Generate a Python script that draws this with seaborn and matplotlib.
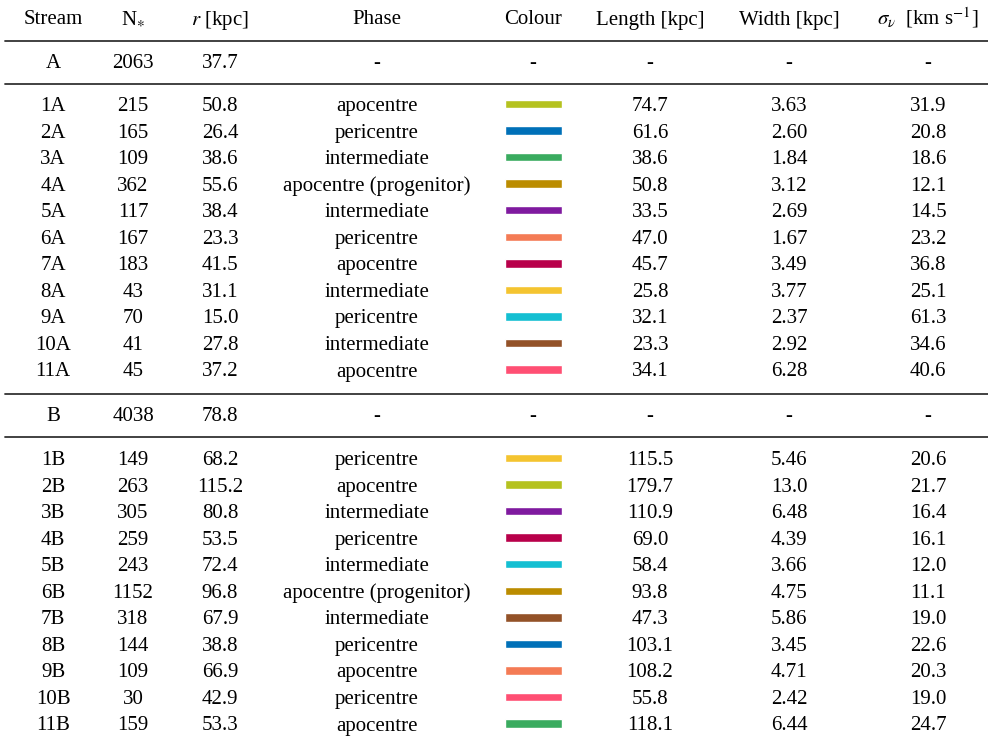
import matplotlib
matplotlib.use("Agg")
import matplotlib.pyplot as plt
import seaborn as sns

# table contents
headers = ["Stream", "N$_{\\ast}$", "$r$ [kpc]", "Phase", "Colour",
           "Length [kpc]", "Width [kpc]", r"$\sigma_{\nu}$  [km s$^{-1}$]"]

streams_a = ["1A", "2A", "3A", "4A", "5A", "6A", "7A", "8A", "9A", "10A", "11A"]
nstar_a = [215, 165, 109, 362, 117, 167, 183, 43, 70, 41, 45]
r_a = ["50.8", "26.4", "38.6", "55.6", "38.4", "23.3", "41.5", "31.1", "15.0", "27.8", "37.2"]
phase_a = ["apocentre", "pericentre", "intermediate", "apocentre (progenitor)", "intermediate",
           "pericentre", "apocentre", "intermediate", "pericentre", "intermediate", "apocentre"]
colour_a = ["#b5c21f", "#0070b8", "#3aab5f", "#bb8c00", "#7f1a9f", "#f47b55",
            "#b8004a", "#f4c430", "#14bfd2", "#935228", "#ff4f73"]
length_a = ["74.7", "61.6", "38.6", "50.8", "33.5", "47.0", "45.7", "25.8", "32.1", "23.3", "34.1"]
width_a = ["3.63", "2.60", "1.84", "3.12", "2.69", "1.67", "3.49", "3.77", "2.37", "2.92", "6.28"]
sigma_a = ["31.9", "20.8", "18.6", "12.1", "14.5", "23.2", "36.8", "25.1", "61.3", "34.6", "40.6"]

streams_b = ["1B", "2B", "3B", "4B", "5B", "6B", "7B", "8B", "9B", "10B", "11B"]
nstar_b = [149, 263, 305, 259, 243, 1152, 318, 144, 109, 30, 159]
r_b = ["68.2", "115.2", "80.8", "53.5", "72.4", "96.8", "67.9", "38.8", "66.9", "42.9", "53.3"]
phase_b = ["pericentre", "apocentre", "intermediate", "pericentre", "intermediate",
           "apocentre (progenitor)", "intermediate", "pericentre", "apocentre", "pericentre", "apocentre"]
colour_b = ["#f4c430", "#b5c21f", "#7f1a9f", "#b8004a", "#14bfd2", "#bb8c00",
            "#935228", "#0070b8", "#f47b55", "#ff4f73", "#3aab5f"]
length_b = ["115.5", "179.7", "110.9", "69.0", "58.4", "93.8", "47.3", "103.1", "108.2", "55.8", "118.1"]
width_b = ["5.46", "13.0", "6.48", "4.39", "3.66", "4.75", "5.86", "3.45", "4.71", "2.42", "6.44"]
sigma_b = ["20.6", "21.7", "16.4", "16.1", "12.0", "11.1", "19.0", "22.6", "20.3", "19.0", "24.7"]

host_rows = [("A", 2063, "37.7"), ("B", 4038, "78.8")]

sns.set_theme(style="white")
plt.rcParams["font.family"] = ["Liberation Serif", "DejaVu Serif"]
plt.rcParams["mathtext.fontset"] = "stix"
plt.rcParams["text.color"] = "black"

fig = plt.figure(figsize=(9.88, 7.44), dpi=100)
ax = fig.add_axes([0, 0, 1, 1])
ax.set_xlim(0, 988)
ax.set_ylim(744, 0)
ax.axis("off")

col_x = [53, 133, 220, 377, 533, 650, 789, 928]
fs = 15
line_kw = dict(color="#333333", lw=1.3)

# y values below are text baselines
for x, h in zip(col_x, headers):
    ax.text(x, 24.5, h, ha="center", va="baseline", fontsize=fs)

def rule(y):
    ax.plot([5, 988], [y, y], **line_kw)

def host(y, row):
    name, n, r = row
    vals = [name, str(n), r, "-", "-", "-", "-", "-"]
    for x, v in zip(col_x, vals):
        ax.text(x, y, v, ha="center", va="baseline", fontsize=fs)

def block(y0, step, names, ns, rs, phases, cols, lens, wids, sigs):
    ys = [y0 + i * step for i in range(len(names))]
    for y, name, n, r, ph, ln, wd, sg in zip(ys, names, ns, rs, phases, lens, wids, sigs):
        for x, v in zip(col_x, [name, str(n), r, ph, None, ln, wd, sg]):
            if v is not None:
                ax.text(x, y, v, ha="center", va="baseline", fontsize=fs)
    ax.barh([y - 7 for y in ys], [57] * len(ys), left=505, height=8.5, color=cols)

rule(40.5)
host(67.5, host_rows[0])
rule(83.5)
block(111.0, 26.55, streams_a, nstar_a, r_a, phase_a, colour_a, length_a, width_a, sigma_a)
rule(394)
host(421, host_rows[1])
rule(437)
block(465, 26.55, streams_b, nstar_b, r_b, phase_b, colour_b, length_b, width_b, sigma_b)

fig.savefig("out.png", dpi=100)
